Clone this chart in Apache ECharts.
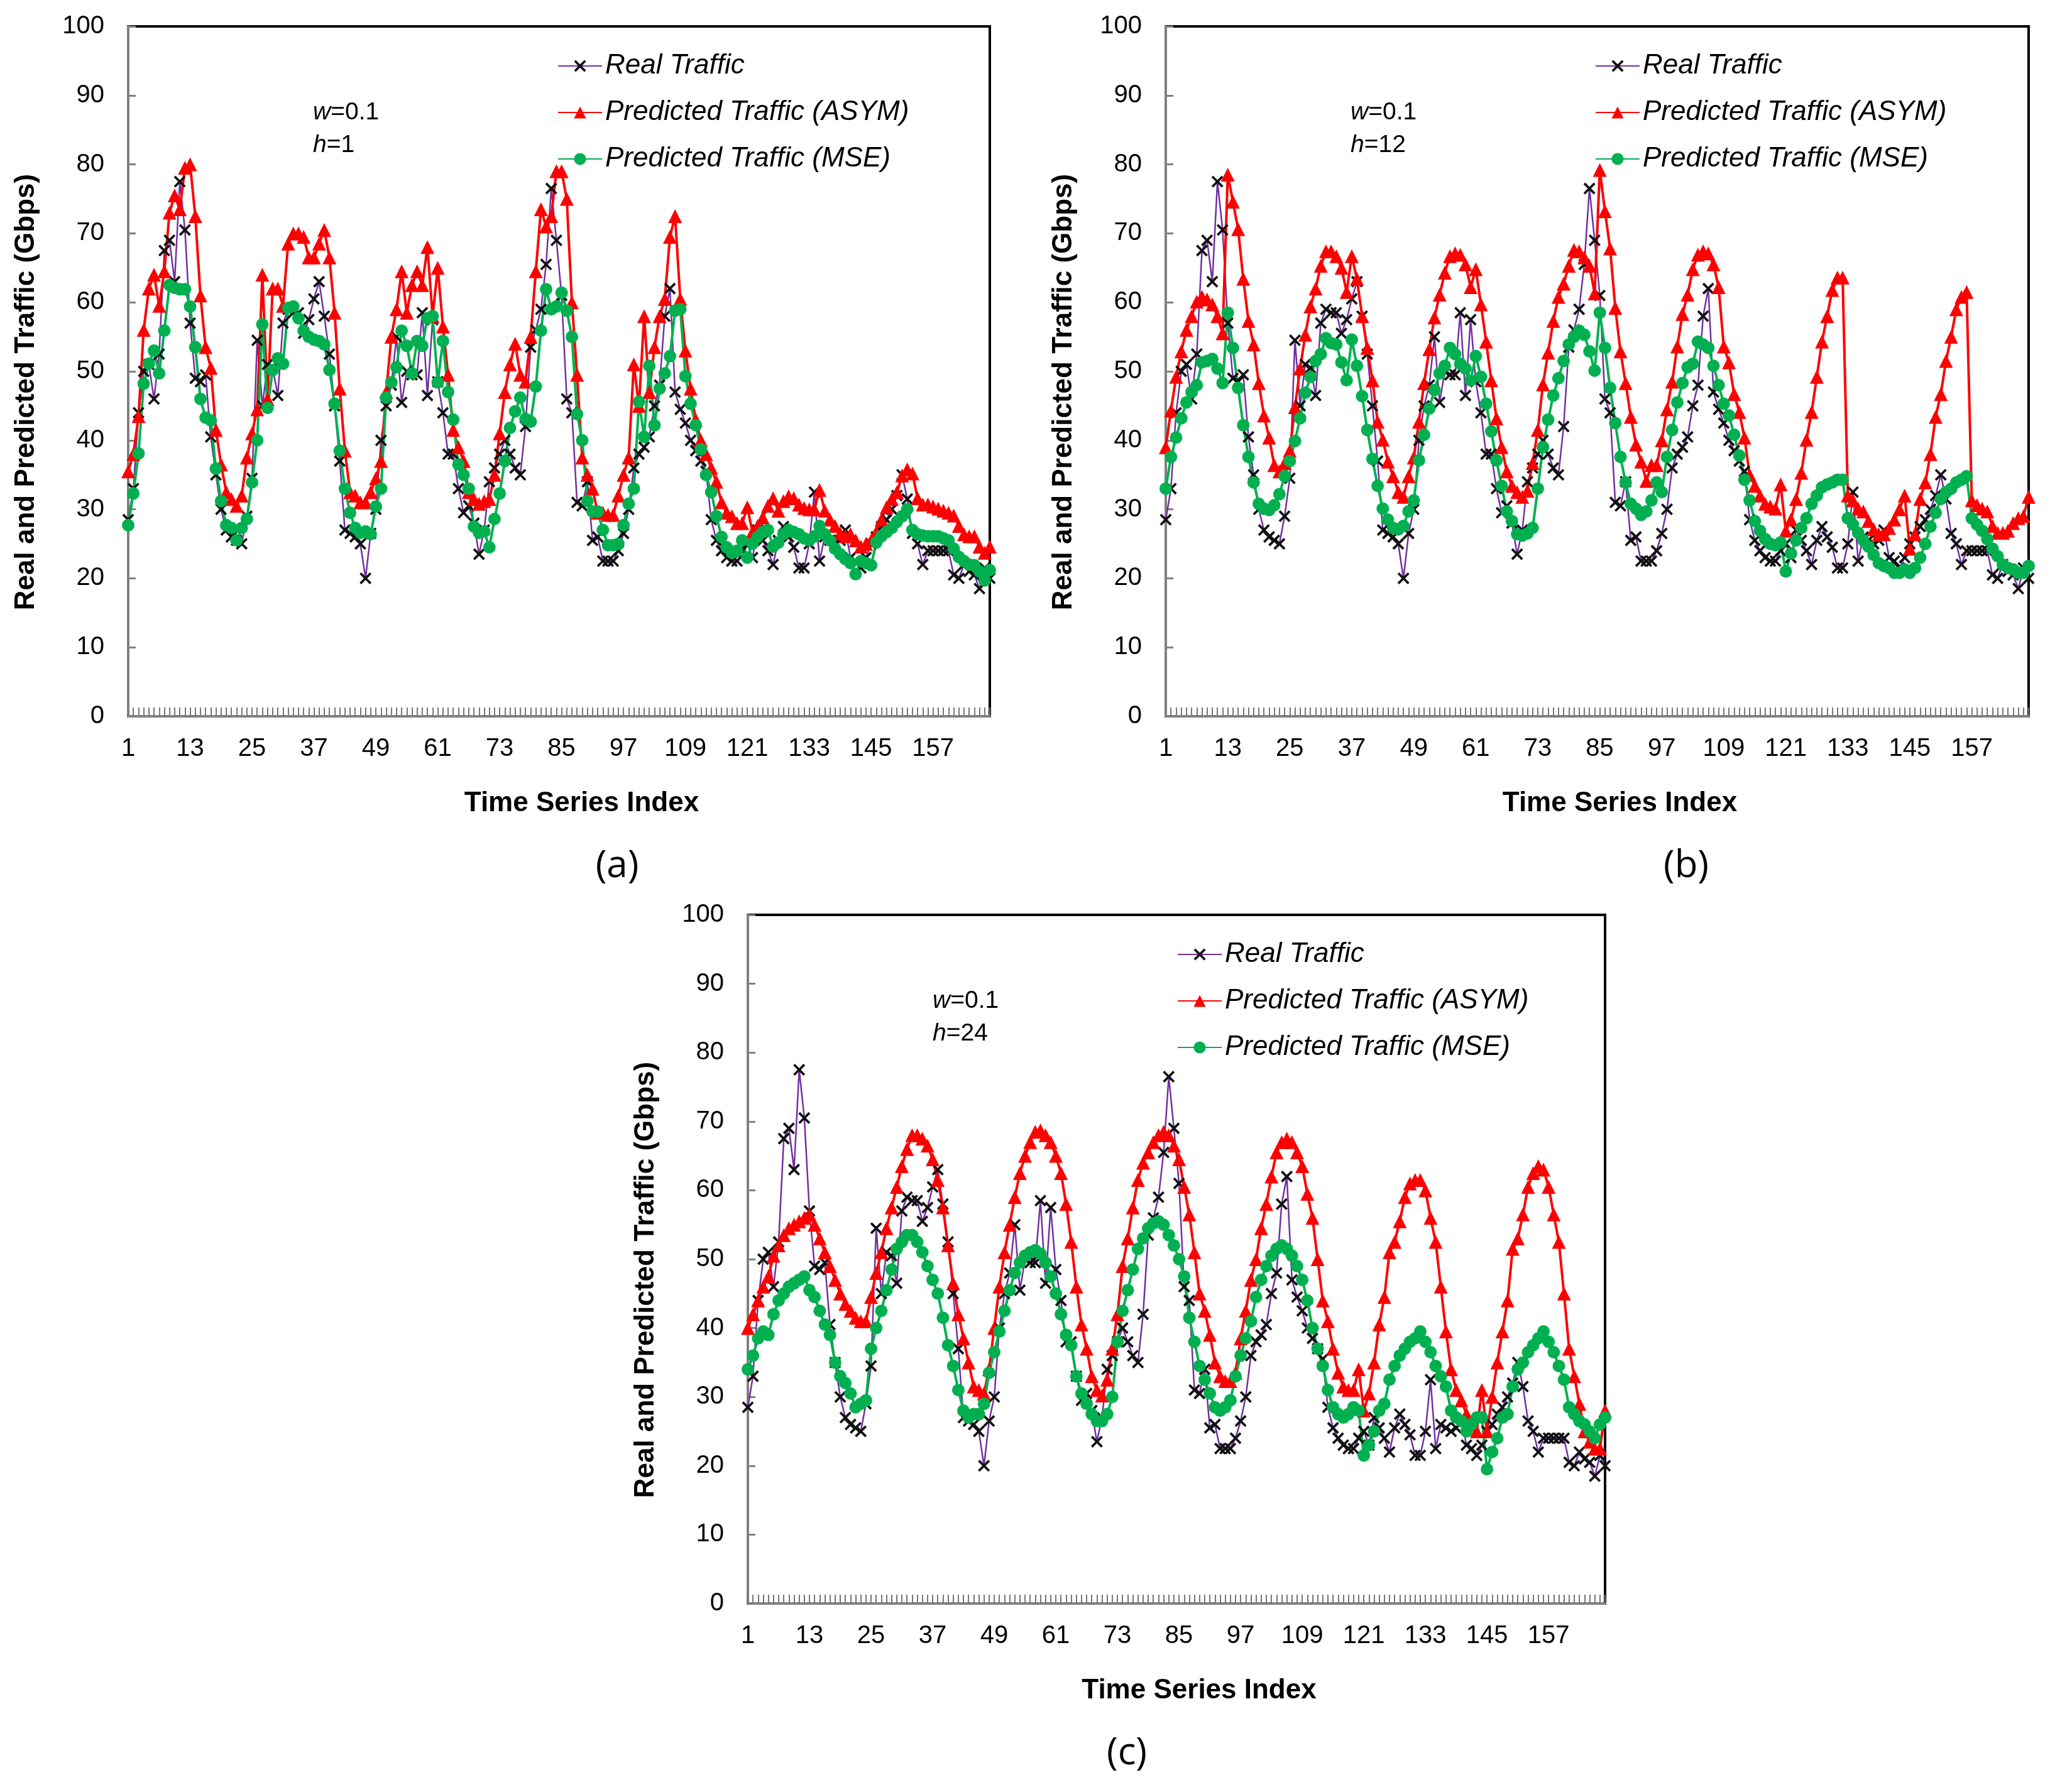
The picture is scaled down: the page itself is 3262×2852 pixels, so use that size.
<!DOCTYPE html>
<html>
<head>
<meta charset="utf-8">
<title>Real and predicted traffic</title>
<script src="https://cdn.jsdelivr.net/npm/echarts/dist/echarts.min.js"></script>
<style>
  html, body { margin: 0; padding: 0; background: #fff; }
  #main { width: 3262px; height: 2852px; }
</style>
</head>
<body>
<div id="main"></div>
<script>
// time series index 1..168 (one week, hourly)
var timeIndex = [];
for (var k = 1; k <= 168; k++) timeIndex.push(String(k));

var realTraffic = [
    28.5, 33, 44, 50, 51, 46, 52.5, 67.5, 69, 63, 77.5, 70.5, 57, 49, 48.5, 49.5, 40.5, 35, 30, 27, 26, 25.5, 25, 29,
    34.5, 54.5, 45, 51, 50.5, 46.5, 57, 59, 58.5, 58.5, 55.5, 57.5, 60.5, 63, 58, 52.5, 45, 37, 27, 26.5, 26, 25, 20, 26.5,
    30, 40, 45, 48, 55, 45.5, 50, 49.5, 49.5, 58.5, 46.5, 57.5, 48.5, 44, 38, 38, 33, 29.5, 30.5, 28, 23.5, 27, 34, 36,
    38, 40, 38, 36, 35, 42, 53.5, 56, 59, 65.5, 76.5, 69, 61, 46, 44, 31, 30.5, 34, 25.5, 26, 22.5, 22.5, 22.5, 24,
    26.5, 30, 36, 38, 39, 40.5, 45, 48, 58, 62, 47, 44.5, 42.5, 40, 38.5, 37, 35.5, 28.5, 25.5, 24, 23, 22.5, 22.5, 24,
    25, 23, 27, 25.5, 24, 22, 25.5, 27.5, 26, 24.5, 21.5, 21.5, 25, 32.5, 22.5, 26, 25.5, 25, 25.5, 27, 23, 22.5, 21.5, 23,
    25, 26, 27.5, 28.5, 30, 32, 35, 31.5, 26.5, 25, 22, 24, 24, 24, 24, 24, 20.5, 20, 22, 21, 20.5, 18.5, 21.5, 20
];

// (a) w=0.1, h=1
var asymH1 = [
    35.5, 38, 43.5, 56, 62, 64, 59.5, 64.5, 73, 75.5, 73.5, 79.5, 80, 72.5, 61, 53.5, 50.5, 41.5, 36.5, 32.5, 31.5, 30.5, 32, 37.5,
    41, 44.5, 64, 46, 62, 62, 59.5, 68.5, 70, 70, 69.5, 66.5, 66.5, 68.5, 70.5, 66.5, 58.5, 47.5, 38.5, 32.5, 32, 31, 31, 32.5,
    34.5, 37, 47, 55, 59, 64.5, 58.5, 62.5, 64.5, 62.5, 68, 58, 65, 56.5, 49.5, 41.5, 39, 37, 32.5, 31.5, 30.8, 31.2, 31.5, 35,
    41, 47, 51, 54, 49.5, 48.5, 55, 64.5, 73.5, 71, 72.5, 79, 79, 75, 60, 49.5, 37.5, 35, 33, 29.5, 29.5, 29.2, 29.2, 32,
    35, 37.5, 51, 45, 58, 47, 53.5, 58, 60.5, 69.5, 72.5, 60.5, 53, 47.5, 43, 40, 38, 36, 34, 31, 29.5, 29, 28, 28,
    30.3, 26.7, 27.6, 28.8, 30.5, 31.6, 29.8, 31.2, 31.9, 31.6, 30.7, 30.2, 30, 30, 32.8, 29.8, 28.5, 27.6, 26.5, 26.1, 26.4, 25.5, 24.6, 25,
    25.5, 26.7, 28.5, 30.3, 31.5, 32.5, 34.9, 35.8, 35.2, 31.6, 30.7, 30.7, 30.4, 30.1, 29.8, 29.5, 29.1, 27.6, 26.4, 26.1, 26.1, 24.6, 23.7, 24.6
];
var mseH1 = [
    27.7, 32.3, 38.1, 48.2, 51.1, 53, 49.7, 55.9, 62.5, 62.1, 61.9, 61.9, 59.4, 53.5, 46, 43.3, 42.9, 35.9, 31.2, 27.7, 27.3, 25.5, 27.3, 28.6,
    33.9, 40, 56.8, 44.7, 50.2, 51.9, 51.1, 59.2, 59.4, 57.7, 55.9, 55, 54.6, 54.4, 53.9, 50.2, 45.3, 38.5, 33, 29.5, 27.3, 26.6, 26.8, 26.4,
    30.4, 33, 46.2, 48.4, 50.6, 55.9, 53.7, 49.7, 54.4, 53.7, 57.7, 58, 48.4, 54.4, 47, 43, 36.5, 35, 33, 27.5, 26.6, 26.8, 24.5, 28.6,
    32.3, 37, 41.8, 44.2, 46.2, 43.1, 42.7, 47.8, 55.9, 61.9, 59, 59.4, 61.4, 58.8, 55, 43.8, 40, 31.2, 29.7, 29.7, 27, 24.8, 24.8, 25,
    27.7, 30.8, 33, 45.6, 40.5, 50.8, 42.2, 47.5, 49.7, 52.2, 58.8, 59, 49.3, 45.3, 42.2, 38.7, 35, 32.5, 29, 26, 24.5, 23.7, 24, 25.5,
    23, 25, 26, 26.7, 27, 24.6, 25.2, 26.4, 27, 26.7, 26.4, 25.8, 25.5, 26.1, 27.6, 26.4, 25.5, 24.3, 23.5, 22.8, 22.2, 20.6, 22.5, 22.2,
    21.9, 25.2, 26.1, 26.7, 27.3, 28.2, 29, 30, 27, 26.4, 26.2, 26.1, 26.1, 26.1, 25.8, 25.5, 24.3, 23.1, 22.5, 22, 21.9, 21, 19.7, 21.2
];

// (b) w=0.1, h=12
var asymH12 = [
    39, 44.3, 49.2, 52.9, 56, 58, 60.1, 60.8, 60.4, 59.7, 58, 55.5, 78.5, 74.6, 70.6, 63.4, 57.3, 53.9, 48.3, 43.6, 40.4, 36.4, 35.5, 36.7,
    38.5, 44.8, 50.4, 55.3, 59.4, 62, 65.3, 67.4, 67.4, 66.7, 65, 61.5, 66.7, 63.4, 58, 53.4, 48.7, 42.7, 40.1, 36.9, 34.8, 32.5, 31.8, 34.8,
    37.5, 42.7, 48.3, 53.2, 57.8, 61.1, 64.3, 66.7, 67.1, 66.9, 65.5, 62.2, 64.8, 59.7, 54.3, 48.7, 43.2, 39, 35.5, 33.4, 32.5, 31.8, 32.7, 36.7,
    41.5, 48.1, 52.7, 57.3, 60.8, 62.7, 65.3, 67.6, 67.4, 66.5, 65.3, 61.3, 79.2, 73.2, 67.8, 59.2, 52.9, 48.3, 43.4, 39.4, 36.9, 34.1, 36.4, 36.4,
    40, 44.5, 48.5, 53.6, 58.3, 61.1, 64.8, 66.9, 67.4, 67.1, 65.5, 62.2, 53.6, 51.3, 46.7, 44.1, 40.4, 35, 33.4, 32, 30.8, 30.4, 30.1, 33.6,
    26.9, 28.5, 31.5, 35.3, 40.1, 44.1, 49.2, 54.3, 58, 61.8, 63.6, 63.6, 32, 31.3, 30.1, 29.7, 28.3, 27.1, 26.4, 26.4, 27.3, 28.5, 30, 32,
    24.3, 26.4, 31.5, 33.9, 38, 43.4, 46.7, 51.5, 55, 59, 60.8, 61.5, 31.3, 30.6, 30.1, 29.7, 27.6, 26.6, 26.6, 26.9, 28, 28.7, 29, 31.8
];
var mseH12 = [
    33, 37.6, 40.4, 43.2, 45.5, 47, 48, 51.3, 51.5, 51.8, 50.4, 48.3, 58.5, 53.4, 47.6, 42.2, 37.6, 33.9, 30.8, 30.1, 29.9, 30.6, 32.2, 34.8,
    37, 39.9, 43.2, 46.9, 49.2, 51.5, 52.5, 54.8, 54.1, 53.9, 51.3, 48.7, 54.6, 50.8, 46.4, 41.5, 37.3, 33.4, 30.1, 28.5, 27.3, 27.1, 27.6, 29.7,
    31.3, 37.1, 40.8, 44.6, 47.3, 49.7, 50.8, 53.4, 52.5, 51.1, 50.4, 48.7, 52.2, 49.2, 45.3, 41.3, 37.1, 33.4, 29.7, 28.3, 26.4, 26.2, 26.5, 27.3,
    33, 39, 43, 46.5, 49, 51.5, 53.9, 55, 55.9, 55.3, 52.9, 50.1, 58.5, 53.4, 47.6, 42.5, 37.6, 33.9, 30.8, 30.1, 29.2, 29.7, 31.3, 33.9,
    32.5, 37.6, 41.5, 45.5, 48.3, 50.6, 51.1, 54.3, 53.9, 53.4, 50.8, 48, 45.3, 43.6, 40.8, 37.8, 34.3, 31.3, 28.3, 26.9, 25.7, 25, 24.8, 25.2,
    21, 23.6, 25.5, 27.3, 28.7, 30.8, 32, 33.2, 33.6, 33.9, 34.3, 34.3, 28.7, 27.8, 26.6, 25.5, 24.6, 23.4, 22.2, 21.8, 21.5, 20.8, 20.8, 21.3,
    20.8, 21.5, 23, 25, 27.5, 29.5, 31.5, 32.5, 33, 33.9, 34.3, 34.8, 28.7, 27.8, 26.9, 25.7, 24.3, 23.2, 22, 21.5, 21.3, 20.8, 20.8, 21.8
];

// (c) w=0.1, h=24
var asymH24 = [
    40, 42, 44, 46, 47.5, 50.5, 52, 53.5, 54.5, 55, 55.5, 56, 56.5, 55, 53, 51, 49, 47, 45, 43.5, 42.5, 41.5, 41, 41,
    44.5, 48, 51, 54.5, 57.5, 60.5, 63.5, 66, 68, 68, 67.5, 66.5, 64.5, 61.5, 57.5, 52, 46.5, 42, 38.5, 35, 31.5, 31, 30.5, 34,
    40, 46, 51, 55, 59, 62.5, 65, 67, 68.5, 68.7, 68, 67, 65, 62.5, 58, 52.5, 46, 40.5, 37, 33, 31, 30.2, 32.5, 37,
    42, 49, 53, 57.5, 61.5, 64, 65.5, 67, 68, 68.5, 68, 66.5, 64.5, 60.5, 56.5, 51, 45, 42.5, 39, 35, 33, 32.3, 32.3, 33.5,
    38.5, 42.5, 47, 50, 54.5, 58, 62, 65.5, 67, 67.5, 67, 65.5, 63.5, 59.5, 56, 50, 44, 41, 37, 33.5, 31.5, 31, 31, 34,
    28, 30.5, 35, 40.5, 44.5, 51, 52.5, 55.5, 59, 61, 61.5, 61.5, 60, 56, 52.5, 46, 39.5, 34, 31, 29.5, 27.5, 26, 25, 31,
    25, 30, 35, 39.5, 44, 51.5, 53, 56.5, 60.5, 62.5, 63.5, 63, 60.5, 56.5, 52.5, 45, 37, 33, 29, 25, 23.5, 22.5, 22.5, 28
];
var mseH24 = [
    34, 36, 38.5, 39.5, 39, 42, 44, 45, 46, 46.5, 47, 47.5, 45.5, 44.5, 42.5, 40.5, 39, 35, 33, 32, 30.5, 28.5, 29, 29.5,
    37, 40, 42.5, 45.5, 48.5, 51.5, 52.5, 53.5, 53.5, 52.5, 51, 49, 47, 45, 41.5, 37.5, 34.5, 31, 28, 27, 27.5, 27.5, 29, 33.5,
    36.5, 39.5, 42.5, 45.5, 48, 49.5, 50.5, 51, 51.3, 50.8, 49.5, 47.5, 45, 42, 39, 37.5, 33, 30.5, 29, 27.5, 26.5, 26.5, 27.5, 30,
    38, 42.5, 45.5, 48.5, 51.5, 53, 54.5, 55.2, 55.5, 55, 53.5, 52, 50, 47.5, 41.5, 38, 34.5, 32.5, 30.5, 28.5, 28, 28.5, 29.5, 33,
    36, 38.5, 41, 44.5, 47, 49, 50.5, 51.5, 52, 51.5, 50.5, 49, 47, 44, 40, 37, 34.5, 31, 28.5, 27.5, 27, 27.5, 28.5, 28,
    21.5, 23, 25, 28, 29, 32.5, 34.5, 36, 37, 38, 38.5, 39.5, 38, 36.5, 34.5, 33, 31.5, 28, 27, 26.5, 25, 26, 27, 27,
    19.5, 22, 24, 27, 27.5, 31.5, 34, 35, 36.5, 37.5, 38.5, 39.5, 38, 36.5, 34.5, 32.5, 28.5, 27.5, 26.5, 26, 25, 24, 26, 27
];

var seriesNames = ['Real Traffic', 'Predicted Traffic (ASYM)', 'Predicted Traffic (MSE)'];
var panelLetters = ['(a)', '(b)', '(c)'];
var horizons = ['1', '12', '24'];

var FONT = '"Liberation Sans", Arial, sans-serif';
var crossSymbol = 'path://M0,1.4L1.4,0L5,3.6L8.6,0L10,1.4L6.4,5L10,8.6L8.6,10L5,6.4L1.4,10L0,8.6L3.6,5Z';

// plot boxes of the three panels, in page pixels; letterX = centre of the (a)/(b)/(c) caption
var panels = [
    { left: 204, top: 42, width: 1371, height: 1098, letterX: 982, asym: asymH1, mse: mseH1 },
    { left: 1855, top: 42, width: 1373, height: 1098, letterX: 2683, asym: asymH12, mse: mseH12 },
    { left: 1190, top: 1456, width: 1364, height: 1096, letterX: 1793, asym: asymH24, mse: mseH24 }
];

var grids = [], xAxes = [], yAxes = [], series = [], legends = [], titles = [], graphics = [];

panels.forEach(function (p, i) {
    grids.push({
        left: p.left, top: p.top, width: p.width, height: p.height,
        show: true, borderColor: '#000', borderWidth: 4, backgroundColor: '#fff'
    });
    xAxes.push({
        type: 'category', gridIndex: i, data: timeIndex, boundaryGap: false,
        axisLine: { lineStyle: { color: '#808080', width: 4 } },
        axisTick: { inside: true, interval: 0, length: 14, lineStyle: { color: '#777', width: 2 } },
        axisLabel: { interval: 11, margin: 32, fontSize: 40, color: '#000', fontFamily: FONT },
        splitLine: { show: false }
    });
    yAxes.push({
        type: 'value', gridIndex: i, min: 0, max: 100, interval: 10,
        axisLine: { show: true, lineStyle: { color: '#808080', width: 4 } },
        axisTick: { show: true, inside: true, length: 12, lineStyle: { color: '#808080', width: 3 } },
        axisLabel: { margin: 38, fontSize: 40, color: '#000', fontFamily: FONT },
        splitLine: { show: false }
    });

    series.push({
        name: seriesNames[0], type: 'line', xAxisIndex: i, yAxisIndex: i, data: realTraffic,
        symbol: crossSymbol, symbolSize: 19, showAllSymbol: true,
        lineStyle: { color: '#7030A0', width: 2.5 }, itemStyle: { color: '#111' }
    });
    series.push({
        name: seriesNames[1], type: 'line', xAxisIndex: i, yAxisIndex: i, data: p.asym,
        symbol: 'triangle', symbolSize: 22, showAllSymbol: true,
        lineStyle: { color: '#FF0000', width: 4 }, itemStyle: { color: '#FF0000' }
    });
    series.push({
        name: seriesNames[2], type: 'line', xAxisIndex: i, yAxisIndex: i, data: p.mse,
        symbol: 'circle', symbolSize: 20, showAllSymbol: true,
        lineStyle: { color: '#00B050', width: 4 }, itemStyle: { color: '#00B050' }
    });

    // legend sits inside the plot, upper right
    legends.push({
        data: seriesNames, orient: 'vertical', selectedMode: false,
        left: p.left + 678, top: p.top + 36,
        itemWidth: 70, itemHeight: 24, itemGap: 30,
        textStyle: { fontSize: 44, fontStyle: 'italic', color: '#000', fontFamily: FONT, lineHeight: 44 }
    });

    // w / h annotation
    titles.push({
        text: '{i|w}=0.1\n{i|h}=' + horizons[i],
        left: p.left + 289, top: p.top + 106,
        textStyle: {
            fontSize: 39, fontWeight: 'normal', color: '#000', fontFamily: FONT, lineHeight: 52,
            rich: { i: { fontStyle: 'italic', fontSize: 39, fontFamily: FONT, color: '#000' } }
        }
    });

    // axis titles
    graphics.push({
        type: 'text', x: p.left + p.width / 2 + 36, y: p.top + p.height + 139,
        style: {
            text: 'Time Series Index', x: 0, y: 0, textAlign: 'center', textVerticalAlign: 'middle',
            font: 'bold 44px ' + FONT, fill: '#000'
        }
    });
    graphics.push({
        type: 'text', x: p.left - 162, y: p.top + p.height / 2 + 33, rotation: Math.PI / 2,
        style: {
            text: 'Real and Predicted Traffic (Gbps)', x: 0, y: 0, textAlign: 'center', textVerticalAlign: 'middle',
            font: 'bold 44px ' + FONT, fill: '#000'
        }
    });
    // panel letter
    graphics.push({
        type: 'text', x: p.letterX, y: p.top + p.height + 239,
        style: {
            text: panelLetters[i], x: 0, y: 0, textAlign: 'center', textVerticalAlign: 'middle',
            font: '60px "Open Sans", sans-serif', fill: '#000'
        }
    });
});

var option = {
    animation: false,
    backgroundColor: '#fff',
    title: titles,
    legend: legends,
    grid: grids,
    xAxis: xAxes,
    yAxis: yAxes,
    series: series,
    graphic: graphics
};

var myChart = echarts.init(document.getElementById('main'));
myChart.setOption(option);
</script>
</body>
</html>
